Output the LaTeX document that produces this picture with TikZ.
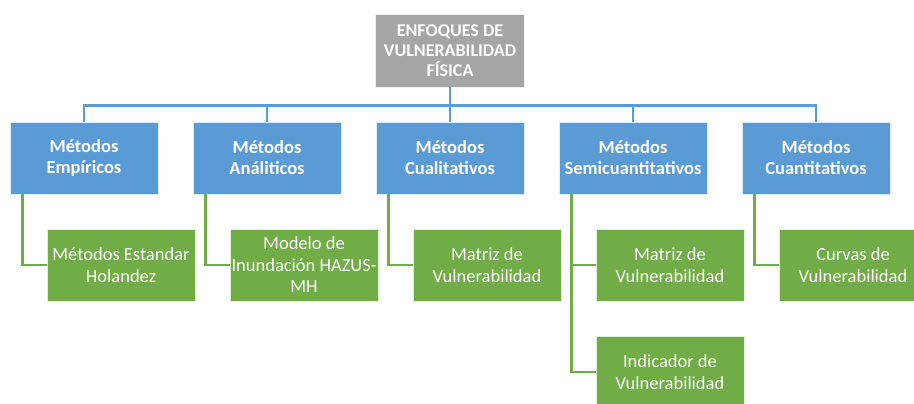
\documentclass[tikz,border=0pt]{standalone}
\usepackage{fontspec}
\setmainfont{Carlito}
\usepackage{xcolor}
\usepackage{tikz}
\usetikzlibrary{positioning}

\definecolor{rootgray}{HTML}{A5A5A5}
\definecolor{methblue}{HTML}{5B9BD5}
\definecolor{leafgreen}{HTML}{70AD47}

\begin{document}
\begin{tikzpicture}[
  x=1pt, y=-1pt,
  rootbox/.style={rectangle, fill=rootgray, draw=white!85!rootgray, line width=0.6pt,
                  minimum width=149pt, minimum height=73pt, inner sep=1pt,
                  text=white, align=center, font=\fontsize{18}{20}\selectfont\bfseries},
  methbox/.style={rectangle, fill=methblue, draw=white!80!methblue, line width=0.6pt,
                  minimum width=148pt, minimum height=72pt, inner sep=1pt,
                  text=white, align=center, font=\fontsize{18.5}{21}\selectfont\bfseries},
  leafbox/.style={rectangle, fill=leafgreen, draw=white!80!leafgreen, line width=0.6pt,
                  minimum width=148pt, minimum height=72pt, inner sep=1pt,
                  text=white, align=center, font=\fontsize{18.5}{21.5}\selectfont},
  bline/.style={draw=methblue, line width=2.6pt},
  gline/.style={draw=leafgreen, line width=2.6pt}
]
\useasboundingbox (0,0) rectangle (914,404);

% ── Root ──
\node[rootbox] (root) at (450,50.5) {ENFOQUES DE\\VULNERABILIDAD\\FÍSICA};

% ── Method row ──
\node[methbox] (emp)  at (84,158)  {Métodos\\Empíricos};
\node[methbox] (ana)  at (267,158) {Métodos\\Análiticos};
\node[methbox] (cua)  at (450,158) {Métodos\\Cualitativos};
\node[methbox] (semi) at (633,158) {Métodos\\Semicuantitativos};
\node[methbox] (cuan) at (816,158) {Métodos\\Cuantitativos};

% ── Leaves ──
\node[leafbox] (hol)   at (121,265) {Métodos Estandar\\Holandez};
\node[leafbox] (hazus) at (304,265) {Modelo de\\Inundación HAZUS-\\MH};
\node[leafbox] (mcua)  at (487,265) {Matriz de\\Vulnerabilidad};
\node[leafbox] (msemi) at (670,265) {Matriz de\\Vulnerabilidad};
\node[leafbox] (isemi) at (670,372) {Indicador de\\Vulnerabilidad};
\node[leafbox] (curv)  at (853,265) {Curvas de\\Vulnerabilidad};

% ── Root to methods ──
\draw[bline] (root.south) -- ++(0,18) -| (emp.north);
\draw[bline] (root.south) -- ++(0,18) -| (ana.north);
\draw[bline] (root.south) -- (cua.north);
\draw[bline] (root.south) -- ++(0,18) -| (semi.north);
\draw[bline] (root.south) -- ++(0,18) -| (cuan.north);

% ── Methods to leaves ──
\draw[gline] ([xshift=13pt]emp.south west)  |- (hol.west);
\draw[gline] ([xshift=13pt]ana.south west)  |- (hazus.west);
\draw[gline] ([xshift=13pt]cua.south west)  |- (mcua.west);
\draw[gline] ([xshift=13pt]semi.south west) |- (msemi.west);
\draw[gline] ([xshift=13pt]semi.south west) |- (isemi.west);
\draw[gline] ([xshift=13pt]cuan.south west) |- (curv.west);
\end{tikzpicture}
\end{document}
